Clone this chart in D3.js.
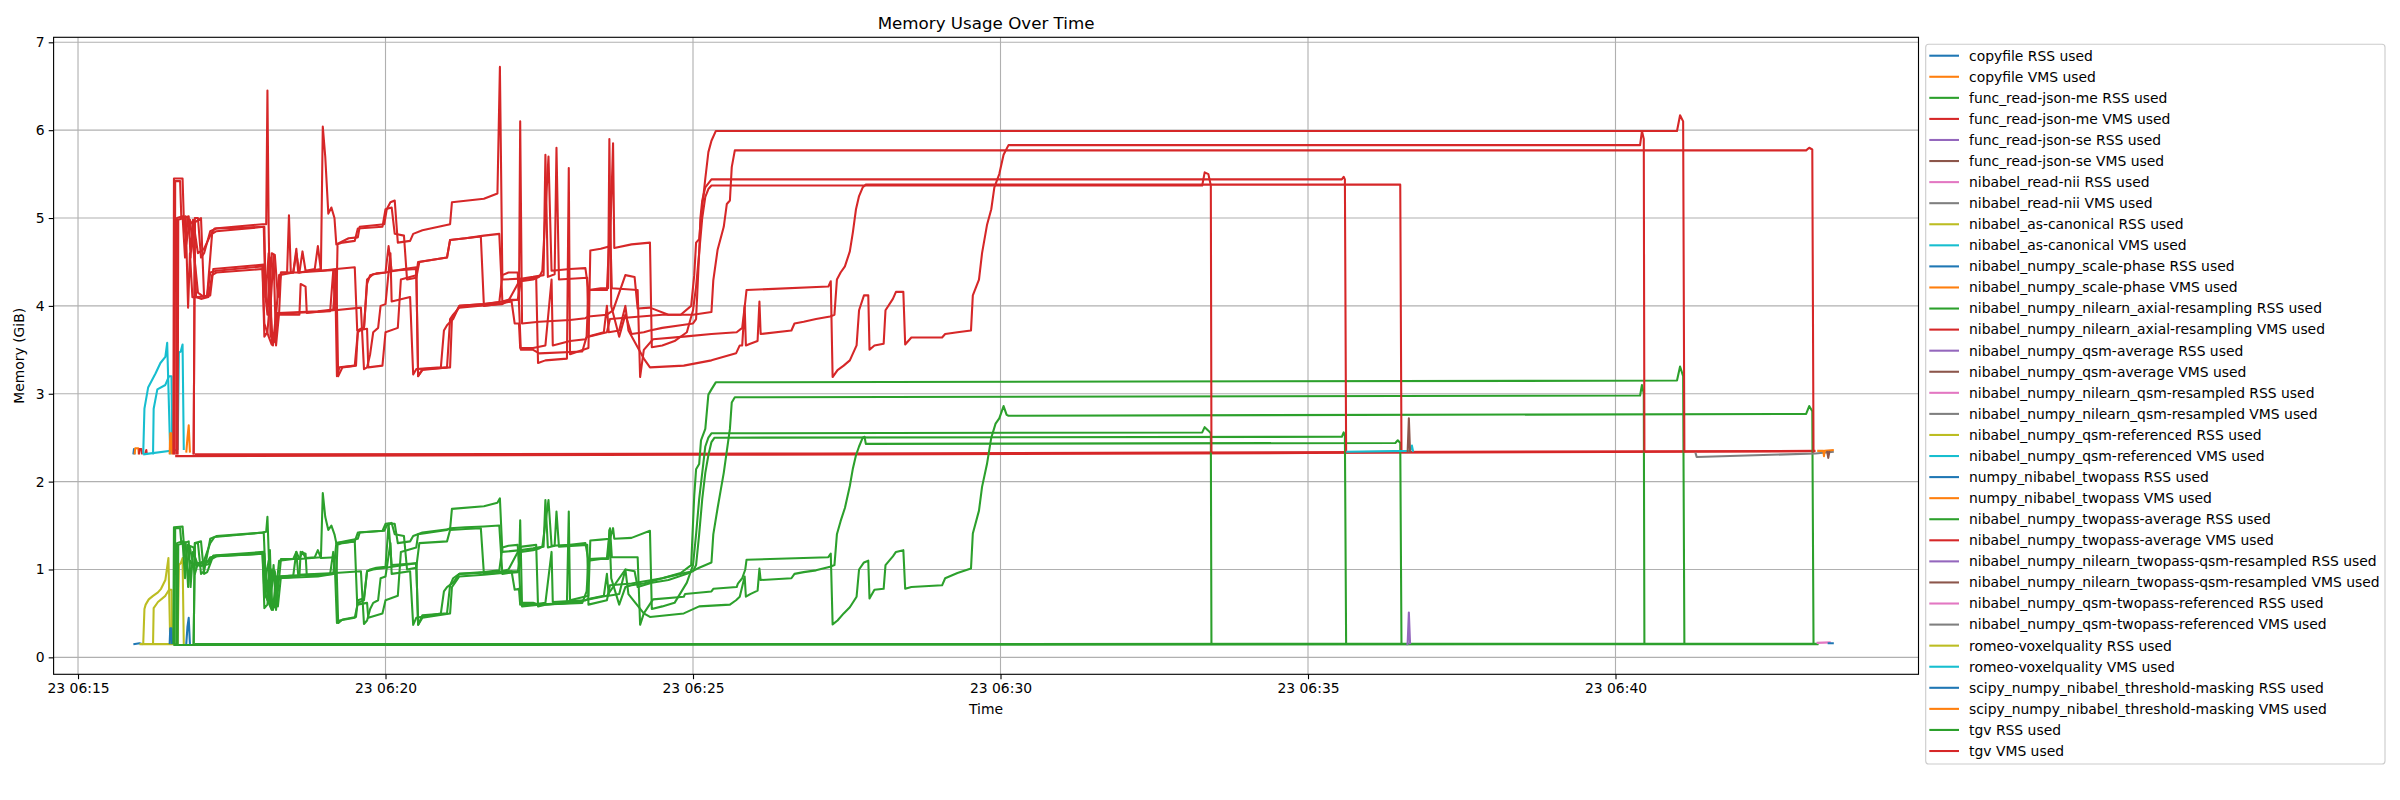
<!DOCTYPE html>
<html><head><meta charset="utf-8">
<script src="https://cdn.jsdelivr.net/npm/d3@7"></script>
<style>body{margin:0;background:#fff}text{font-family:"DejaVu Sans",sans-serif}</style>
</head><body><svg id="c" width="2400" height="800"></svg>
<script>
// time offsets are minutes after 23 06:15:00
const legendLabels = ["copyfile RSS used","copyfile VMS used","func_read-json-me RSS used","func_read-json-me VMS used","func_read-json-se RSS used","func_read-json-se VMS used","nibabel_read-nii RSS used","nibabel_read-nii VMS used","nibabel_as-canonical RSS used","nibabel_as-canonical VMS used","nibabel_numpy_scale-phase RSS used","nibabel_numpy_scale-phase VMS used","nibabel_numpy_nilearn_axial-resampling RSS used","nibabel_numpy_nilearn_axial-resampling VMS used","nibabel_numpy_qsm-average RSS used","nibabel_numpy_qsm-average VMS used","nibabel_numpy_nilearn_qsm-resampled RSS used","nibabel_numpy_nilearn_qsm-resampled VMS used","nibabel_numpy_qsm-referenced RSS used","nibabel_numpy_qsm-referenced VMS used","numpy_nibabel_twopass RSS used","numpy_nibabel_twopass VMS used","nibabel_numpy_twopass-average RSS used","nibabel_numpy_twopass-average VMS used","nibabel_numpy_nilearn_twopass-qsm-resampled RSS used","nibabel_numpy_nilearn_twopass-qsm-resampled VMS used","nibabel_numpy_qsm-twopass-referenced RSS used","nibabel_numpy_qsm-twopass-referenced VMS used","romeo-voxelquality RSS used","romeo-voxelquality VMS used","scipy_numpy_nibabel_threshold-masking RSS used","scipy_numpy_nibabel_threshold-masking VMS used","tgv RSS used","tgv VMS used"];
const yTicks = [0,1,2,3,4,5,6,7];

const vmsIdleA = [[1.58,2.29],[10,2.305],[20,2.325],[28.25,2.345]];
const vmsIdleB = [[1.9,2.31],[12,2.32],[28.25,2.35]];
const rssIdleA = [[1.55,0.14],[28.3,0.15]];
const rssIdleB = [[1.9,0.15],[28.3,0.155]];

const vms1 = [[1.55,2.31],[1.56,5.45],[1.70,5.45],[1.72,5.0],[1.80,5.02],[1.83,4.55],[1.87,4.98],[1.95,4.6],[2.05,4.65],[2.15,4.8],[2.22,4.88],[3.0,4.93],[3.06,4.93],[3.08,6.45],[3.10,4.9],[3.13,3.65],[3.2,3.7],[3.27,4.35],[3.5,4.38],[3.55,4.6],[3.6,4.38],[3.95,4.42],[3.98,6.04],[4.02,5.7],[4.07,5.05],[4.12,5.12],[4.17,5.0],[4.2,4.7],[4.4,4.77],[4.55,4.78],[4.58,4.9],[4.98,4.93],[5.02,5.1],[5.08,5.18],[5.15,5.2],[5.2,4.72],[5.4,4.74],[5.45,4.82],[5.6,4.86],[6.05,4.93],[6.08,5.18],[6.6,5.22],[6.82,5.28],[6.86,6.72],[6.9,4.3],[7.2,4.31],[7.4,4.33],[7.57,4.35],[7.6,5.72],[7.64,4.33],[7.75,4.36],[7.78,5.8],[7.82,4.3],[8.28,4.32],[8.3,3.65],[8.6,3.7],[8.65,3.85],[9.0,3.87],[9.5,3.9],[9.8,3.9],[9.97,4.0],[10.02,4.35],[10.05,4.72],[10.1,4.76],[10.13,5.0],[10.2,5.45],[10.25,5.75],[10.3,5.88],[10.37,5.99],[26.0,5.99],[26.05,6.17],[26.1,6.1],[26.12,2.33]];
const vms2 = [[1.88,2.31],[1.9,4.95],[2.0,5.0],[2.05,4.1],[2.1,4.12],[2.18,4.82],[2.25,4.85],[3.03,4.9],[3.05,4.1],[3.1,4.0],[3.15,4.6],[3.2,4.58],[3.25,4.1],[3.3,4.38],[3.4,4.38],[3.43,5.03],[3.46,4.38],[3.5,4.38],[3.55,4.65],[3.58,4.38],[4.18,4.41],[4.21,3.2],[4.25,3.3],[4.5,3.32],[4.55,3.7],[4.65,3.75],[4.7,4.3],[4.8,4.36],[5.0,4.38],[5.3,4.42],[5.5,4.44],[5.53,3.2],[5.6,3.28],[6.05,3.3],[6.08,3.85],[6.2,4.0],[6.6,4.02],[6.9,4.05],[7.0,4.07],[7.17,4.07],[7.19,6.1],[7.22,3.8],[7.5,3.82],[8.0,3.84],[8.25,3.86],[8.3,3.88],[8.6,3.9],[8.7,3.95],[8.9,4.35],[9.05,4.33],[9.1,3.97],[9.3,3.98],[9.6,3.9],[10.0,3.9],[10.3,3.93],[10.33,4.29],[10.4,4.64],[10.5,4.9],[10.55,5.16],[10.6,5.2],[10.63,5.58],[10.68,5.77],[28.1,5.77],[28.15,5.8],[28.2,5.78],[28.22,2.33]];
const vms3 = [[1.6,2.31],[1.61,5.0],[1.7,5.02],[1.74,4.55],[1.78,5.0],[1.88,4.92],[1.92,4.1],[2.0,4.08],[2.12,4.1],[2.18,4.35],[2.25,4.38],[3.0,4.42],[3.03,3.65],[3.08,3.7],[3.12,4.05],[3.17,3.55],[3.22,3.92],[3.5,3.92],[4.1,3.94],[4.15,4.4],[4.18,3.95],[4.6,3.98],[4.65,3.28],[4.7,3.3],[4.75,3.45],[4.8,3.7],[4.88,3.75],[4.92,4.0],[5.0,4.02],[5.08,4.6],[5.1,4.05],[5.4,4.1],[5.45,3.22],[5.5,3.28],[5.9,3.3],[5.95,3.72],[6.0,3.78],[6.1,3.85],[6.2,4.0],[6.6,4.02],[6.85,4.04],[6.9,4.35],[7.0,4.38],[7.15,4.38],[7.2,3.5],[7.4,3.5],[7.5,3.46],[8.2,3.48],[8.27,3.65],[8.3,4.18],[8.6,4.18],[8.65,4.95],[8.68,4.2],[9.1,4.18],[9.14,3.19],[9.2,3.5],[9.35,3.62],[9.85,3.65],[10.3,3.68],[10.71,3.7],[10.8,3.75],[10.85,4.05],[10.87,4.18],[12.2,4.22],[12.24,4.28],[12.27,3.19],[12.35,3.27],[12.45,3.32],[12.55,3.38],[12.66,3.55],[12.7,3.95],[12.78,4.12],[12.85,4.12],[12.87,3.5],[12.95,3.55],[13.1,3.57],[13.13,3.95],[13.25,4.08],[13.3,4.16],[13.42,4.16],[13.45,3.56],[13.55,3.64],[14.05,3.64],[14.1,3.68],[14.3,3.7],[14.52,3.72],[14.55,4.12],[14.65,4.3],[14.7,4.6],[14.78,4.92],[14.85,5.1],[14.9,5.35],[14.98,5.5],[15.05,5.72],[15.13,5.83],[25.4,5.83],[25.43,5.99],[25.46,5.9],[25.47,2.33]];
const vms4 = [[1.57,2.31],[1.58,5.42],[1.66,5.42],[1.68,5.0],[1.75,5.02],[1.79,3.98],[1.82,4.6],[1.86,4.1],[1.95,4.1],[2.15,4.12],[2.2,4.42],[3.02,4.47],[3.05,4.1],[3.08,3.9],[3.12,4.55],[3.15,3.58],[3.2,3.6],[3.25,3.92],[3.9,3.94],[4.15,3.96],[4.2,4.42],[4.5,4.44],[4.54,3.72],[4.7,3.74],[4.72,3.3],[4.95,3.32],[5.0,3.7],[5.2,3.75],[5.25,4.3],[5.5,4.35],[5.53,4.5],[6.0,4.55],[6.05,4.75],[6.3,4.77],[6.6,4.8],[6.85,4.82],[6.9,4.05],[7.0,4.06],[7.15,4.07],[7.2,4.28],[7.4,4.3],[7.5,4.33],[7.55,4.4],[7.65,5.7],[7.7,4.4],[8.0,4.42],[8.25,4.43],[8.3,4.18],[8.5,4.2],[8.62,4.2],[8.64,5.9],[8.67,4.0],[8.8,3.65],[8.9,3.9],[9.0,3.68],[9.2,3.7],[9.3,3.72],[9.5,3.75],[9.8,3.78],[10.0,3.8],[10.05,3.85],[10.1,4.6],[10.12,5.0],[10.15,5.2],[10.2,5.35],[10.3,5.44],[20.55,5.44],[20.58,5.47],[20.6,5.44],[20.62,2.33]];
const vms5 = [[1.88,2.31],[1.9,5.0],[1.95,5.0],[2.0,4.55],[2.05,4.6],[2.15,4.85],[2.25,4.88],[3.02,4.9],[3.05,4.1],[3.1,4.6],[3.13,4.0],[3.18,4.58],[3.22,3.55],[3.27,3.92],[3.3,4.38],[3.6,4.38],[3.65,4.62],[3.7,4.4],[3.85,4.42],[3.9,4.68],[3.95,4.4],[4.2,4.42],[4.23,3.2],[4.3,3.3],[4.52,3.32],[4.55,3.72],[4.6,3.74],[4.65,3.75],[4.7,4.25],[4.75,4.35],[4.85,4.37],[5.0,4.38],[5.05,4.68],[5.1,4.4],[5.5,4.42],[5.53,3.2],[5.6,3.27],[6.0,3.3],[6.05,3.85],[6.1,3.9],[6.2,3.98],[6.5,4.0],[6.9,4.02],[7.0,4.06],[7.19,4.3],[7.22,4.3],[7.45,4.32],[7.48,3.35],[7.6,3.38],[7.95,3.4],[7.98,5.57],[8.0,3.45],[8.3,3.52],[8.33,4.63],[8.5,4.65],[8.65,4.68],[8.7,5.85],[8.72,4.66],[9.0,4.7],[9.3,4.72],[9.33,3.53],[9.5,3.55],[9.7,3.6],[9.9,3.7],[10.0,3.95],[10.05,4.22],[10.1,4.6],[10.15,5.0],[10.2,5.24],[10.25,5.33],[10.3,5.37],[18.28,5.37],[18.32,5.52],[18.38,5.5],[18.42,5.37],[18.43,2.33]];
const vms6 = [[1.62,2.31],[1.63,4.98],[1.72,5.0],[1.76,4.7],[1.82,4.98],[1.9,4.5],[1.95,4.15],[2.05,4.1],[2.1,4.12],[2.15,4.38],[2.25,4.4],[3.0,4.45],[3.03,3.8],[3.1,3.65],[3.15,3.56],[3.2,3.6],[3.25,3.9],[3.6,3.9],[3.62,4.25],[3.7,4.22],[3.72,3.92],[4.15,3.95],[4.2,3.96],[4.22,4.7],[4.3,4.72],[4.5,4.74],[4.55,4.88],[4.95,4.9],[5.0,5.1],[5.1,5.12],[5.15,4.82],[5.3,4.8],[5.35,4.3],[5.5,4.32],[5.55,4.5],[6.0,4.55],[6.05,4.75],[6.3,4.77],[6.55,4.79],[6.6,4.0],[6.8,4.02],[7.05,4.05],[7.1,3.8],[7.17,3.8],[7.19,3.52],[7.4,3.52],[7.6,3.55],[7.7,4.3],[7.72,3.55],[8.0,3.6],[8.25,3.62],[8.28,3.65],[8.55,3.7],[8.6,4.0],[8.63,3.7],[8.8,3.72],[8.9,4.0],[8.95,3.72],[9.2,3.4],[9.3,3.3],[9.85,3.32],[10.3,3.38],[10.7,3.46],[10.76,3.55],[10.8,3.55],[10.84,4.0],[10.86,3.55],[10.93,3.57],[11.05,3.6],[11.08,4.05],[11.1,3.68],[11.6,3.72],[11.65,3.8],[11.8,3.82],[12.0,3.85],[12.23,3.88],[12.3,3.9],[12.34,4.3],[12.4,4.38],[12.47,4.45],[12.55,4.62],[12.6,4.84],[12.65,5.1],[12.7,5.25],[12.76,5.35],[12.81,5.38],[21.5,5.38],[21.52,2.33]];

const rss1 = [[1.55,0.15],[1.56,1.48],[1.7,1.49],[1.72,1.3],[1.8,1.32],[1.83,0.8],[1.87,1.2],[1.95,1.05],[2.05,1.1],[2.15,1.3],[2.22,1.37],[3.0,1.42],[3.06,1.43],[3.08,1.6],[3.1,1.2],[3.13,0.58],[3.2,0.62],[3.27,1.1],[3.5,1.12],[3.55,1.2],[3.6,1.12],[3.95,1.14],[3.98,1.87],[4.02,1.6],[4.07,1.45],[4.12,1.5],[4.17,1.4],[4.2,1.3],[4.4,1.33],[4.55,1.35],[4.58,1.42],[4.98,1.44],[5.02,1.5],[5.08,1.52],[5.15,1.52],[5.2,1.3],[5.4,1.32],[5.45,1.38],[5.6,1.42],[6.05,1.46],[6.08,1.69],[6.6,1.72],[6.82,1.76],[6.86,1.81],[6.9,1.2],[7.2,1.22],[7.4,1.24],[7.57,1.26],[7.6,1.79],[7.64,1.25],[7.75,1.27],[7.78,1.66],[7.82,1.26],[8.28,1.28],[8.3,0.6],[8.6,0.65],[8.65,0.82],[9.0,0.84],[9.5,0.9],[9.8,0.96],[9.97,1.05],[10.02,1.84],[10.05,2.14],[10.1,2.2],[10.13,2.47],[10.2,2.6],[10.25,2.99],[10.3,3.05],[10.37,3.13],[26.0,3.15],[26.05,3.31],[26.1,3.2],[26.12,0.15]];
const rss2 = [[1.88,0.15],[1.9,1.3],[2.0,1.32],[2.05,0.95],[2.1,0.97],[2.18,1.12],[2.25,1.15],[3.03,1.18],[3.05,0.7],[3.1,0.62],[3.15,1.0],[3.2,0.98],[3.25,0.58],[3.3,0.92],[3.5,0.93],[3.55,1.2],[3.58,0.94],[4.18,0.96],[4.21,0.39],[4.25,0.42],[4.5,0.45],[4.55,0.62],[4.65,0.65],[4.7,0.98],[4.8,1.0],[5.0,1.02],[5.3,1.05],[5.5,1.07],[5.53,0.37],[5.6,0.45],[6.05,0.5],[6.08,0.8],[6.2,0.92],[6.6,0.94],[6.9,0.96],[7.0,0.98],[7.17,0.98],[7.19,1.56],[7.22,0.58],[7.5,0.6],[8.0,0.62],[8.25,0.65],[8.3,0.66],[8.6,0.7],[8.9,1.0],[9.05,0.98],[9.1,0.8],[9.33,0.85],[9.6,0.88],[9.9,0.95],[10.1,1.02],[10.3,1.08],[10.33,1.4],[10.4,1.7],[10.45,1.9],[10.5,2.1],[10.55,2.35],[10.6,2.6],[10.63,2.9],[10.68,2.96],[25.4,2.98],[25.43,3.1],[25.46,3.0],[25.47,0.15]];
const rss3 = [[1.6,0.15],[1.61,1.3],[1.7,1.32],[1.74,0.9],[1.78,1.28],[1.88,1.25],[1.92,1.05],[2.0,1.04],[2.12,1.06],[2.18,1.14],[2.25,1.16],[3.0,1.18],[3.03,0.56],[3.08,0.6],[3.12,0.9],[3.17,0.54],[3.22,0.92],[3.5,0.93],[4.1,0.95],[4.15,1.2],[4.18,0.96],[4.6,0.98],[4.65,0.38],[4.7,0.42],[4.75,0.55],[4.8,0.62],[4.88,0.65],[4.92,0.9],[5.0,0.92],[5.08,1.3],[5.1,0.95],[5.4,0.98],[5.45,0.37],[5.5,0.45],[5.9,0.5],[5.95,0.75],[6.0,0.8],[6.1,0.85],[6.2,0.95],[6.6,0.97],[6.85,0.99],[6.9,1.25],[7.0,1.27],[7.15,1.28],[7.2,0.62],[7.4,0.62],[7.5,0.6],[8.2,0.62],[8.27,0.75],[8.3,1.12],[8.6,1.13],[8.65,1.47],[8.68,1.14],[9.1,1.14],[9.14,0.37],[9.2,0.5],[9.35,0.66],[9.85,0.69],[9.87,0.72],[10.3,0.75],[10.33,0.78],[10.71,0.8],[10.73,0.84],[10.8,0.9],[10.85,1.0],[10.87,1.11],[12.2,1.14],[12.24,1.18],[12.27,0.375],[12.35,0.42],[12.45,0.5],[12.55,0.57],[12.66,0.69],[12.7,1.0],[12.78,1.08],[12.85,1.1],[12.87,0.67],[12.95,0.77],[13.1,0.78],[13.13,1.05],[13.25,1.15],[13.3,1.2],[13.42,1.22],[13.45,0.78],[13.55,0.8],[14.05,0.82],[14.1,0.9],[14.3,0.96],[14.52,1.01],[14.55,1.41],[14.65,1.67],[14.7,1.94],[14.78,2.2],[14.85,2.5],[14.92,2.66],[14.98,2.72],[15.05,2.86],[15.1,2.76],[15.13,2.75],[28.1,2.77],[28.15,2.86],[28.2,2.8],[28.22,0.15]];
const rss4 = [[1.88,0.15],[1.9,1.3],[1.95,1.3],[2.0,0.95],[2.05,0.98],[2.15,1.35],[2.25,1.38],[3.02,1.42],[3.05,0.9],[3.1,1.1],[3.13,0.6],[3.18,1.05],[3.22,0.54],[3.27,0.9],[3.3,1.12],[3.6,1.12],[3.65,1.2],[3.7,1.13],[3.85,1.14],[3.9,1.22],[3.95,1.13],[4.2,1.14],[4.23,0.39],[4.3,0.43],[4.52,0.46],[4.55,0.65],[4.6,0.66],[4.65,0.68],[4.7,0.98],[4.75,1.0],[4.85,1.02],[5.0,1.03],[5.05,1.52],[5.1,1.05],[5.5,1.07],[5.53,0.37],[5.6,0.48],[6.0,0.5],[6.05,0.82],[6.1,0.9],[6.2,0.95],[6.5,0.96],[6.9,0.98],[7.0,1.0],[7.19,1.25],[7.22,1.26],[7.45,1.28],[7.48,0.58],[7.6,0.6],[7.95,0.62],[7.98,1.66],[8.0,0.65],[8.3,0.7],[8.33,1.33],[8.5,1.34],[8.65,1.35],[8.7,1.47],[8.72,1.35],[9.0,1.36],[9.3,1.44],[9.33,0.55],[9.5,0.58],[9.7,0.62],[9.9,0.85],[10.0,1.05],[10.05,1.4],[10.1,1.8],[10.15,2.1],[10.2,2.4],[10.25,2.5],[10.3,2.55],[18.28,2.56],[18.32,2.62],[18.38,2.58],[18.42,2.55],[18.43,0.15]];
const rss5 = [[1.57,0.15],[1.58,1.47],[1.66,1.47],[1.68,1.3],[1.75,1.31],[1.79,0.8],[1.82,1.1],[1.86,1.06],[1.95,1.07],[2.15,1.1],[2.2,1.16],[3.02,1.2],[3.05,0.95],[3.08,0.7],[3.12,1.22],[3.15,0.55],[3.2,0.58],[3.25,0.9],[3.9,0.92],[4.15,0.95],[4.2,1.3],[4.5,1.32],[4.54,0.6],[4.7,0.62],[4.72,0.45],[4.95,0.5],[5.0,0.65],[5.2,0.7],[5.25,1.2],[5.5,1.25],[5.53,1.4],[6.0,1.45],[6.05,1.47],[6.3,1.48],[6.6,1.49],[6.85,1.5],[6.9,0.95],[7.0,0.96],[7.15,0.97],[7.2,1.2],[7.4,1.22],[7.5,1.24],[7.55,1.26],[7.65,1.79],[7.7,1.27],[8.0,1.28],[8.25,1.3],[8.3,1.1],[8.5,1.12],[8.62,1.12],[8.64,1.45],[8.67,0.9],[8.8,0.6],[8.9,0.8],[9.0,0.82],[9.2,0.84],[9.3,0.86],[9.5,0.9],[9.8,0.95],[10.0,0.98],[10.05,1.05],[10.1,1.4],[10.15,1.8],[10.2,2.1],[10.25,2.3],[10.3,2.45],[10.35,2.5],[20.55,2.51],[20.58,2.56],[20.6,2.52],[20.62,0.15]];
const rss6 = [[1.62,0.15],[1.63,1.28],[1.72,1.3],[1.76,1.0],[1.82,1.25],[1.9,0.95],[1.95,1.07],[2.05,1.06],[2.1,1.08],[2.15,1.14],[2.25,1.15],[3.0,1.18],[3.03,0.75],[3.1,0.62],[3.15,0.54],[3.2,0.58],[3.25,0.9],[3.6,0.92],[3.62,1.2],[3.7,1.18],[3.72,0.93],[4.15,0.95],[4.2,0.96],[4.22,1.28],[4.3,1.3],[4.5,1.32],[4.55,1.42],[4.95,1.44],[5.0,1.52],[5.1,1.53],[5.15,1.4],[5.3,1.38],[5.35,1.0],[5.5,1.02],[5.55,1.3],[6.0,1.32],[6.05,1.45],[6.3,1.46],[6.55,1.47],[6.6,0.95],[6.8,0.96],[7.05,0.98],[7.1,0.77],[7.17,0.78],[7.19,0.6],[7.4,0.6],[7.6,0.62],[7.7,1.2],[7.72,0.63],[8.0,0.64],[8.25,0.65],[8.28,0.66],[8.55,0.7],[8.6,0.95],[8.63,0.7],[8.8,0.72],[8.9,1.0],[8.95,0.72],[9.2,0.5],[9.3,0.46],[9.85,0.5],[10.1,0.58],[10.6,0.6],[10.7,0.65],[10.76,0.69],[10.84,0.92],[10.86,0.69],[10.93,0.72],[11.05,0.76],[11.08,1.01],[11.1,0.88],[11.6,0.9],[11.65,0.95],[11.8,0.97],[12.0,0.99],[12.23,1.03],[12.3,1.05],[12.34,1.4],[12.4,1.55],[12.47,1.7],[12.55,1.95],[12.6,2.15],[12.65,2.3],[12.7,2.4],[12.76,2.5],[12.79,2.51],[12.81,2.43],[21.42,2.44],[21.46,2.47],[21.5,2.44],[21.52,0.15]];

const cyanA = [[1.06,2.31],[1.08,2.83],[1.14,3.07],[1.26,3.23],[1.34,3.35],[1.42,3.42],[1.45,3.58],[1.5,2.31]];
const cyanB = [[1.22,2.31],[1.23,2.83],[1.29,3.05],[1.42,3.1],[1.48,3.2],[1.52,3.2],[1.53,2.33]];
const cyanC = [[1.62,2.36],[1.64,3.47],[1.67,3.48],[1.7,3.56],[1.72,2.36]];
const cyanBase = [[1.06,2.31],[1.6,2.36]];
const cyanEnd = [[20.62,2.34],[21.66,2.35],[21.69,2.41],[21.71,2.34]];
const oliveA = [[1.06,0.15],[1.08,0.55],[1.1,0.6],[1.15,0.66],[1.22,0.7],[1.3,0.74],[1.35,0.78],[1.42,0.88],[1.47,1.13],[1.5,0.15]];
const oliveB = [[1.22,0.15],[1.23,0.56],[1.3,0.63],[1.42,0.7],[1.48,0.77],[1.52,0.77],[1.53,0.15]];
const oliveC = [[1.62,0.15],[1.64,1.05],[1.67,1.07],[1.7,1.13],[1.72,0.15]];
const oliveBase = [[1.0,0.15],[1.62,0.15]];
const orangeA = [[1.49,2.31],[1.5,2.55],[1.52,2.55],[1.53,2.31]];
const orangeB = [[1.76,2.33],[1.78,2.5],[1.8,2.64],[1.82,2.33]];
const orangeStub = [[0.92,2.31],[0.93,2.38],[0.98,2.38],[0.99,2.31]];
const orangeEnd = [[28.28,2.35],[28.38,2.35],[28.39,2.29],[28.4,2.35],[28.55,2.36]];
const blueA = [[1.49,0.15],[1.5,0.33],[1.52,0.33],[1.53,0.15]];
const blueB = [[1.76,0.15],[1.78,0.35],[1.8,0.45],[1.82,0.15]];
const blueStub = [[0.9,2.31],[0.91,2.37],[0.92,2.31]];
const blueRssStub = [[0.9,0.15],[1.0,0.16],[1.05,0.15]];
const blueEnd = [[28.45,0.16],[28.55,0.16]];
const redStubA = [[0.99,2.31],[1.0,2.37],[1.03,2.37],[1.04,2.31]];
const redStubB = [[1.09,2.31],[1.11,2.36],[1.12,2.31]];
const purpleSpike = [[21.6,0.15],[21.62,0.15],[21.64,0.51],[21.66,0.15]];
const brownSpike = [[21.62,2.33],[21.64,2.72],[21.66,2.33]];
const brownEnd = [[28.44,2.35],[28.46,2.27],[28.48,2.35]];
const grayEnd = [[26.3,2.33],[26.32,2.28],[28.25,2.32],[28.55,2.34]];
const pinkEnd = [[28.27,0.165],[28.5,0.17]];

const C = d3.schemeCategory10;
const BASE = new Date(2024, 0, 23, 6, 15, 0);
const toDate = m => new Date(BASE.getTime() + m * 60000);
const LW = 2.08, THIN = 1.11;

const L = 53.6, R = 1918.5, T = 37.3, B = 674.3;
const x = d3.scaleTime().domain([toDate(-0.397), toDate(29.927)]).range([L, R]);
const y = d3.scaleLinear().domain([-0.193, 7.057]).range([B, T]);

const svg = d3.select("#c");
svg.append("rect").attr("width",2400).attr("height",800).attr("fill","#fff");

const xt = d3.timeMinute.every(5).range(toDate(-0.397), toDate(29.927));
const g = svg.append("g");
g.selectAll(".gx").data(xt).join("line").attr("x1",d=>x(d)).attr("x2",d=>x(d)).attr("y1",T).attr("y2",B).attr("stroke","#b0b0b0").attr("stroke-width",THIN);
g.selectAll(".gy").data(yTicks).join("line").attr("x1",L).attr("x2",R).attr("y1",d=>y(d)).attr("y2",d=>y(d)).attr("stroke","#b0b0b0").attr("stroke-width",THIN);

svg.append("clipPath").attr("id","pc").append("rect").attr("x",L).attr("y",T).attr("width",R-L).attr("height",B-T);
const plot = svg.append("g").attr("clip-path","url(#pc)");
const line = d3.line().x(d=>x(toDate(d[0]))).y(d=>y(d[1]));

const series = [
  [blueStub,C[0]],[blueRssStub,C[0]],[orangeStub,C[1]],[redStubA,C[3]],[redStubB,C[3]],
  [cyanBase,C[9]],[cyanA,C[9]],[cyanB,C[9]],[cyanC,C[9]],[oliveBase,C[8]],[oliveA,C[8]],[oliveB,C[8]],[oliveC,C[8]],
  [orangeA,C[1]],[orangeB,C[1]],[blueA,C[0]],[blueB,C[0]],
  [rssIdleA,C[2]],[rssIdleB,C[2]],[vmsIdleA,C[3]],[vmsIdleB,C[3]],
  [rss1,C[2]],[rss2,C[2]],[rss3,C[2]],[rss4,C[2]],[rss5,C[2]],[rss6,C[2]],
  [vms1,C[3]],[vms2,C[3]],[vms3,C[3]],[vms4,C[3]],[vms5,C[3]],[vms6,C[3]],
  [cyanEnd,C[9]],[purpleSpike,C[4]],[brownSpike,C[5]],[grayEnd,C[7]],[orangeEnd,C[1]],[brownEnd,C[5]],[pinkEnd,C[6]],[blueEnd,C[0]]
];
plot.selectAll("path.s").data(series).join("path").attr("class","s")
  .attr("d",d=>line(d[0])).attr("fill","none").attr("stroke",d=>d[1]).attr("stroke-width",LW).attr("stroke-linejoin","round");

svg.append("rect").attr("x",L).attr("y",T).attr("width",R-L).attr("height",B-T).attr("fill","none").attr("stroke","#000").attr("stroke-width",THIN);

const xa = svg.append("g").attr("transform",`translate(0,${B})`)
  .call(d3.axisBottom(x).tickValues(xt).tickFormat(d3.timeFormat("%d %H:%M")).tickSize(4.9).tickPadding(4.2));
const ya = svg.append("g").attr("transform",`translate(${L},0)`)
  .call(d3.axisLeft(y).tickValues(yTicks).tickFormat(d3.format("d")).tickSize(4.9).tickPadding(4.2));
[xa,ya].forEach(a=>{a.select(".domain").remove();a.selectAll("line").attr("stroke","#000").attr("stroke-width",THIN);
  a.selectAll("text").attr("font-size","13.9px").attr("font-family","DejaVu Sans").attr("fill","#000");});

svg.append("text").attr("x",(L+R)/2).attr("y",29).attr("text-anchor","middle").attr("font-size","16.7px").text("Memory Usage Over Time");
svg.append("text").attr("x",(L+R)/2).attr("y",714).attr("text-anchor","middle").attr("font-size","13.9px").text("Time");
svg.append("text").attr("transform",`translate(24,${(T+B)/2}) rotate(-90)`).attr("text-anchor","middle").attr("font-size","13.9px").text("Memory (GiB)");

const lg = svg.append("g");
lg.append("rect").attr("x",1925.7).attr("y",44.3).attr("width",459.3).attr("height",719.7).attr("rx",3).attr("fill","#fff").attr("fill-opacity",0.8).attr("stroke","#cccccc").attr("stroke-width",THIN);
const items = lg.selectAll("g.it").data(legendLabels).join("g").attr("class","it")
  .attr("transform",(d,i)=>`translate(0,${55.7 + i*21.07})`);
items.append("line").attr("x1",1929.3).attr("x2",1959).attr("stroke",(d,i)=>C[i%10]).attr("stroke-width",LW);
items.append("text").attr("x",1969).attr("dy","0.35em").attr("font-size","13.9px").text(d=>d);
</script></body></html>
